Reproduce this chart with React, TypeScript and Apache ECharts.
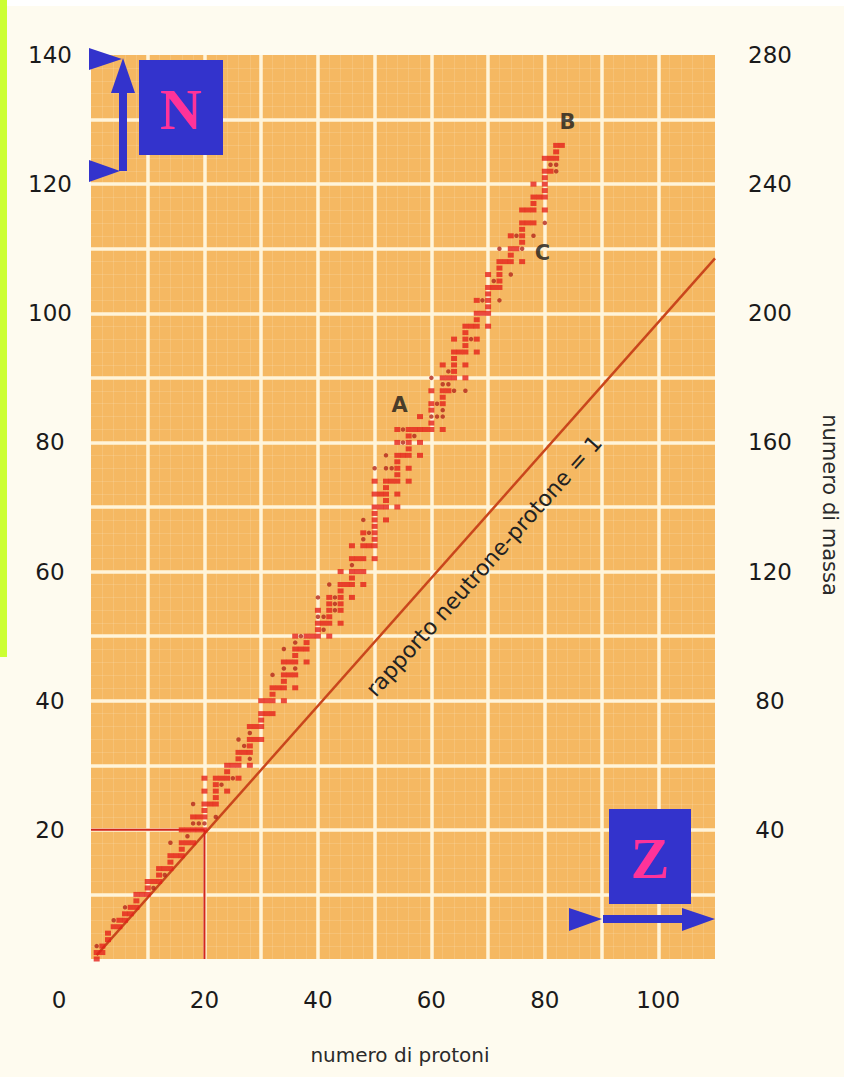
import React, { useEffect, useRef } from "react";
import * as echarts from "echarts";

// Stable nuclides: [Z, list of N]
const stableIsotopes: [number, number[]][] = [
  [1, [0, 1]], [2, [1, 2]], [3, [3, 4]], [4, [5]], [5, [5, 6]], [6, [6, 7]], [7, [7, 8]],
  [8, [8, 9, 10]], [9, [10]], [10, [10, 11, 12]], [11, [12]], [12, [12, 13, 14]], [13, [14]],
  [14, [14, 15, 16]], [15, [16]], [16, [16, 17, 18, 20]], [17, [18, 20]], [18, [18, 20, 22]],
  [19, [20, 22]], [20, [20, 22, 23, 24, 26, 28]], [21, [24]], [22, [24, 25, 26, 27, 28]],
  [23, [28]], [24, [26, 28, 29, 30]], [25, [30]], [26, [28, 30, 31, 32]], [27, [32]],
  [28, [30, 32, 33, 34, 36]], [29, [34, 36]], [30, [34, 36, 37, 38, 40]], [31, [38, 40]],
  [32, [38, 40, 41, 42]], [33, [42]], [34, [40, 42, 43, 44, 46]], [35, [44, 46]],
  [36, [42, 44, 46, 47, 48, 50]], [37, [48]], [38, [46, 48, 49, 50]], [39, [50]],
  [40, [50, 51, 52, 54]], [41, [52]], [42, [50, 52, 53, 54, 55, 56]],
  [44, [52, 54, 55, 56, 57, 58, 60]], [45, [58]], [46, [56, 58, 59, 60, 62, 64]], [47, [60, 62]],
  [48, [58, 60, 62, 64, 66]], [49, [64]], [50, [62, 64, 65, 66, 67, 68, 69, 70, 72, 74]],
  [51, [70, 72]], [52, [68, 70, 71, 72, 73, 74]], [53, [74]],
  [54, [70, 72, 74, 75, 76, 77, 78, 80, 82]], [55, [78]], [56, [74, 76, 78, 79, 80, 81, 82]],
  [57, [82]], [58, [78, 80, 82, 84]], [59, [82]], [60, [82, 83, 85, 86, 88]],
  [62, [82, 86, 87, 88, 90, 92]], [63, [88, 90]], [64, [90, 91, 92, 93, 94, 96]], [65, [94]],
  [66, [90, 92, 94, 95, 96, 97, 98]], [67, [98]], [68, [94, 96, 98, 99, 100, 102]], [69, [100]],
  [70, [98, 100, 101, 102, 103, 104, 106]], [71, [104]], [72, [104, 105, 106, 107, 108]],
  [73, [108]], [74, [108, 109, 110, 112]], [75, [110]], [76, [108, 111, 112, 113, 114, 116]],
  [77, [114, 116]], [78, [114, 116, 117, 118, 120]], [79, [118]],
  [80, [116, 118, 119, 120, 121, 122, 124]], [81, [122, 124]], [82, [124, 125, 126]], [83, [126]],
];

// Long-lived radioactive nuclides (dots): [Z, N]
const radioactiveDots: [number, number][] = [
  [1, 2], [4, 6], [6, 8], [11, 11], [13, 13], [14, 18], [17, 19], [18, 21], [18, 24], [19, 21],
  [20, 21], [22, 22], [23, 27], [25, 28], [26, 34], [27, 33], [28, 31], [28, 35], [32, 44],
  [34, 45], [34, 48], [36, 45], [36, 49], [37, 50], [40, 53], [40, 56], [41, 51], [41, 53],
  [42, 58], [43, 54], [43, 55], [43, 56], [46, 61], [48, 65], [48, 68], [49, 66], [50, 76],
  [52, 76], [52, 78], [53, 76], [55, 80], [55, 82], [57, 81], [60, 84], [60, 90], [61, 84],
  [61, 86], [62, 84], [62, 85], [62, 89], [63, 89], [63, 91], [64, 88], [66, 88], [67, 96],
  [69, 102], [71, 105], [72, 102], [72, 110], [74, 106], [75, 112], [76, 110], [78, 112],
  [80, 114], [81, 123], [82, 122], [82, 123],
];

// Reference lines
const ratioLine: [number, number][] = [[1, 0.6], [110, 108.5]];
const guideHorizontal: [number, number][] = [[0, 20], [20, 20]];
const guideVertical: [number, number][] = [[20, 0], [20, 20]];

// Letter annotations: [Z, N, label]
const annotations: [number, number, string][] = [
  [54.4, 85.8, "A"],
  [84, 129.6, "B"],
  [79.6, 109.4, "C"],
];

const protonTicks = [20, 40, 60, 80, 100];
const neutronTicks = [20, 40, 60, 80, 100, 120, 140];
const massTicks = [40, 80, 120, 160, 200, 240, 280];

const BLUE = "#3333CC";
const MAGENTA = "#FF3399";
const FONT = "DejaVu Sans";

export default function App() {
  const ref = useRef<HTMLDivElement>(null);

  useEffect(() => {
    if (!ref.current) return;
    const chart = echarts.init(ref.current, undefined, { renderer: "svg" });

    const stableData = stableIsotopes.flatMap(([z, ns]) => ns.map((n) => [z, n]));

    const splitStyle = { color: "#FFF4DA", width: 3.5 };
    const minorStyle = { color: "rgba(255,244,220,0.16)", width: 1 };

    const option: echarts.EChartsOption = {
      animation: false,
      backgroundColor: "#FEFBEF",
      grid: {
        left: 91,
        right: 129,
        top: 55,
        bottom: 118,
        show: true,
        backgroundColor: "#F5B862",
        borderWidth: 0,
      },
      xAxis: {
        type: "value",
        min: 0,
        max: 110,
        interval: 10,
        axisLine: { show: false },
        axisTick: { show: false },
        axisLabel: {
          margin: 29,
          fontSize: 23,
          fontFamily: FONT,
          color: "#1A1A1A",
          formatter: (v: number) => (protonTicks.includes(v) ? String(v) : ""),
        },
        splitLine: { show: true, showMinLine: false, showMaxLine: false, lineStyle: splitStyle },
        minorTick: { show: false, splitNumber: 5 },
        minorSplitLine: { show: true, lineStyle: minorStyle },
      },
      yAxis: [
        {
          type: "value",
          min: 0,
          max: 140,
          interval: 10,
          position: "left",
          axisLine: { show: false },
          axisTick: { show: false },
          axisLabel: {
            margin: 41,
            align: "center",
            fontSize: 23,
            fontFamily: FONT,
            color: "#1A1A1A",
            formatter: (v: number) => (neutronTicks.includes(v) ? String(v) : ""),
          },
          splitLine: { show: true, showMinLine: false, showMaxLine: false, lineStyle: splitStyle },
          minorTick: { show: false, splitNumber: 5 },
          minorSplitLine: { show: true, lineStyle: minorStyle },
        },
        {
          type: "value",
          min: 0,
          max: 280,
          interval: 20,
          position: "right",
          axisLine: { show: false },
          axisTick: { show: false },
          splitLine: { show: false },
          axisLabel: {
            margin: 55,
            align: "center",
            fontSize: 23,
            fontFamily: FONT,
            color: "#1A1A1A",
            formatter: (v: number) => (massTicks.includes(v) ? String(v) : ""),
          },
        },
      ],
      series: [
        {
          type: "line",
          data: ratioLine,
          showSymbol: false,
          lineStyle: { color: "#C9461C", width: 2.5 },
          z: 2,
        },
        {
          type: "line",
          data: guideHorizontal,
          showSymbol: false,
          lineStyle: { color: "#D2261C", width: 2 },
          z: 2,
        },
        {
          type: "line",
          data: guideVertical,
          showSymbol: false,
          lineStyle: { color: "#D2261C", width: 2 },
          z: 2,
        },
        {
          type: "scatter",
          data: stableData,
          symbol: "rect",
          symbolSize: [6, 5],
          itemStyle: { color: "#E5201A" },
          z: 3,
        },
        {
          type: "scatter",
          data: radioactiveDots,
          symbol: "circle",
          symbolSize: 4.5,
          itemStyle: { color: "#B4261C" },
          z: 3,
        },
        {
          type: "scatter",
          data: annotations,
          symbolSize: 0,
          label: {
            show: true,
            position: "inside",
            formatter: (p: any) => p.data[2],
            fontSize: 21,
            fontWeight: "bold",
            fontFamily: FONT,
            color: "#1A1A1A",
          },
          z: 4,
        },
      ],
      graphic: [
        { type: "rect", shape: { x: 0, y: 0, width: 844, height: 6 }, style: { fill: "#FFFFFF" }, z: 100 },
        { type: "rect", shape: { x: 0, y: 0, width: 7, height: 657 }, style: { fill: "#CCFF33" }, z: 101 },
        // origin label
        {
          type: "text",
          x: 59,
          y: 1000,
          style: { text: "0", fontSize: 23, fontFamily: FONT, fill: "#1A1A1A", align: "center", verticalAlign: "middle" },
          z: 100,
        },
        // axis titles
        {
          type: "text",
          x: 400,
          y: 1055,
          style: { text: "numero di protoni", fontSize: 20, fontFamily: FONT, fill: "#2A2A2A", align: "center", verticalAlign: "middle" },
          z: 100,
        },
        {
          type: "text",
          x: 830,
          y: 505,
          rotation: -Math.PI / 2,
          style: { text: "numero di massa", fontSize: 21, fontFamily: FONT, fill: "#2A2A2A", align: "center", verticalAlign: "middle" },
          z: 100,
        },
        // ratio label along the diagonal
        {
          type: "text",
          x: 484,
          y: 566,
          rotation: 0.84,
          style: {
            text: "rapporto neutrone-protone = 1",
            fontSize: 22,
            fontFamily: FONT,
            fill: "#222222",
            align: "center",
            verticalAlign: "middle",
          },
          z: 100,
        },
        // N box and arrow
        { type: "rect", shape: { x: 139, y: 60, width: 84, height: 95 }, style: { fill: BLUE }, z: 110 },
        {
          type: "text",
          x: 181,
          y: 109,
          style: { text: "N", fontSize: 58, fontFamily: "Liberation Serif", fontWeight: "bold", fill: MAGENTA, align: "center", verticalAlign: "middle" },
          z: 111,
        },
        { type: "rect", shape: { x: 119, y: 90, width: 8, height: 81 }, style: { fill: BLUE }, z: 110 },
        { type: "polygon", shape: { points: [[111, 93], [135, 93], [123, 58]] }, style: { fill: BLUE }, z: 110 },
        { type: "polygon", shape: { points: [[89, 48], [89, 70], [122, 59]] }, style: { fill: BLUE }, z: 110 },
        { type: "polygon", shape: { points: [[89, 160], [89, 182], [120, 171]] }, style: { fill: BLUE }, z: 110 },
        // Z box and arrow
        { type: "rect", shape: { x: 609, y: 809, width: 82, height: 95 }, style: { fill: BLUE }, z: 110 },
        {
          type: "text",
          x: 650,
          y: 858,
          style: { text: "Z", fontSize: 58, fontFamily: "Liberation Serif", fontWeight: "bold", fill: MAGENTA, align: "center", verticalAlign: "middle" },
          z: 111,
        },
        { type: "rect", shape: { x: 603, y: 915, width: 82, height: 8 }, style: { fill: BLUE }, z: 110 },
        { type: "polygon", shape: { points: [[682, 908], [682, 931], [715, 919]] }, style: { fill: BLUE }, z: 110 },
        { type: "polygon", shape: { points: [[569, 908], [569, 931], [602, 919]] }, style: { fill: BLUE }, z: 110 },
      ],
    };

    chart.setOption(option);
    return () => chart.dispose();
  }, []);

  return (
    <div
      ref={ref}
      style={{ position: "fixed", left: 0, top: 0, width: 844, height: 1077 }}
    />
  );
}
